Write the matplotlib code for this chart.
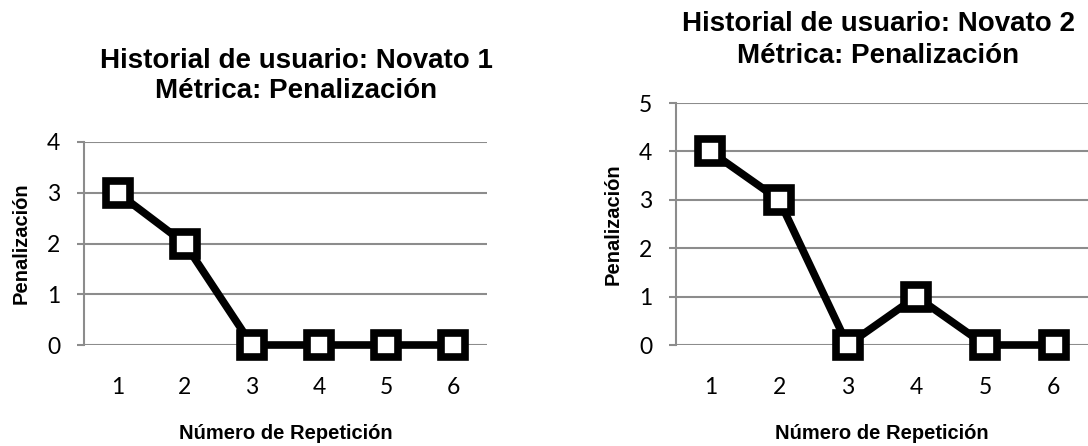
import numpy as np
import matplotlib
matplotlib.use("Agg")
import matplotlib.pyplot as plt

repeticiones = [1, 2, 3, 4, 5, 6]
penalizacion_novato1 = [3, 2, 0, 0, 0, 0]
penalizacion_novato2 = [4, 3, 0, 1, 0, 0]
titulo_novato1 = "Historial de usuario: Novato 1\nMétrica: Penalización"
titulo_novato2 = "Historial de usuario: Novato 2\nMétrica: Penalización"

W, H = 1088, 446
fig = plt.figure(figsize=(W / 100, H / 100), dpi=100)

GRID = "#8c8c8c"
TICK_FONT = "Lato"
BOLD_FONT = "Liberation Sans"


def px_axes(x0, x1, y_top, y_bot):
    return fig.add_axes([x0 / W, 1 - y_bot / H, (x1 - x0) / W, (y_bot - y_top) / H])


def draw_panel(ax, valores, ymax):
    ax.plot(repeticiones, valores, color="black", lw=5.5, marker="s",
            markersize=17, markerfacecolor="white", markeredgecolor="black",
            markeredgewidth=5.5, solid_joinstyle="miter", clip_on=False, zorder=3)
    ax.set_xlim(0.5, 6.5)
    ax.set_ylim(0, ymax)
    ax.set_yticks(range(ymax + 1))
    ax.set_xticks(repeticiones)
    ax.yaxis.grid(True, color=GRID, lw=1.5)
    ax.set_axisbelow(True)
    for s in ["top", "right", "bottom"]:
        ax.spines[s].set_visible(False)
    ax.spines["left"].set_color(GRID)
    ax.spines["left"].set_linewidth(1.5)
    ax.tick_params(axis="y", length=5, width=1.5, color=GRID, pad=12)
    ax.tick_params(axis="x", length=0, pad=23)
    for lab in ax.get_xticklabels() + ax.get_yticklabels():
        lab.set_fontfamily(TICK_FONT)
        lab.set_fontsize(16.5)
    ax.set_xlabel("Número de Repetición", fontfamily=BOLD_FONT,
                  fontweight="bold", fontsize=14.5, labelpad=19)
    ax.set_ylabel("Penalización", fontfamily=BOLD_FONT,
                  fontweight="bold", fontsize=14.5, labelpad=12)


ax1 = px_axes(84, 487, 142, 345)
draw_panel(ax1, penalizacion_novato1, 4)
fig.text(296 / W, 1 - 76 / H, titulo_novato1, ha="center", va="center",
         fontfamily=BOLD_FONT, fontweight="bold", fontsize=20, linespacing=1.25)

ax2 = px_axes(676, 1088, 103, 345)
draw_panel(ax2, penalizacion_novato2, 5)
fig.text(878 / W, 1 - 40 / H, titulo_novato2, ha="center", va="center",
         fontfamily=BOLD_FONT, fontweight="bold", fontsize=20, linespacing=1.3)

fig.savefig("out.png", dpi=100)
